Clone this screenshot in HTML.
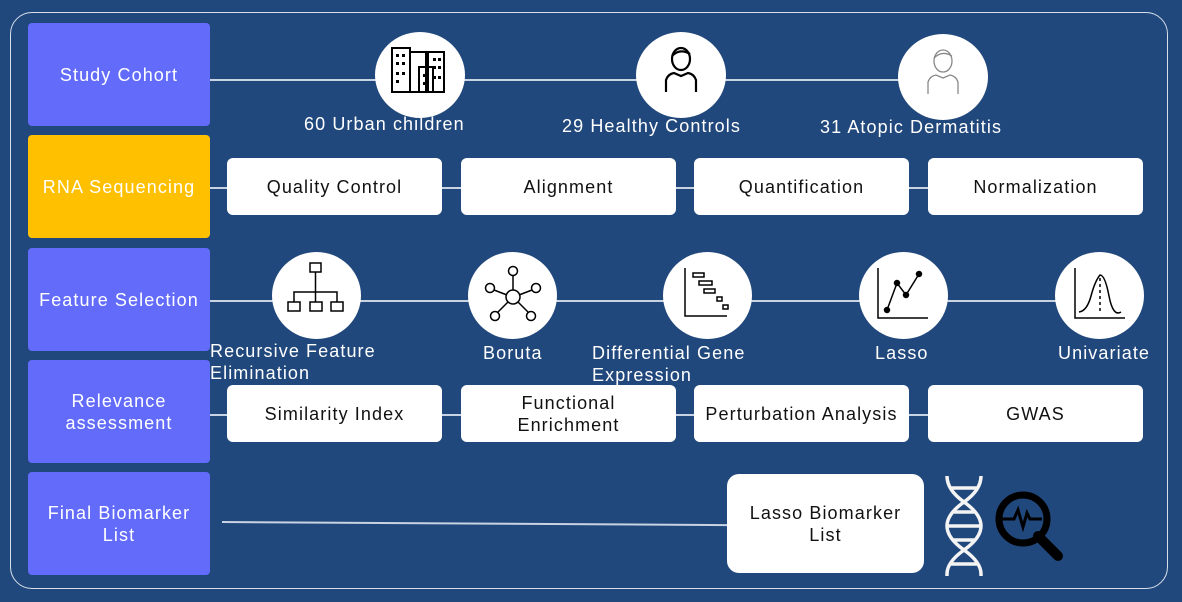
<!DOCTYPE html>
<html><head><style>
body{margin:0;width:1182px;height:602px;background:#21487c;position:relative;overflow:hidden;font-family:"Liberation Sans",sans-serif;letter-spacing:1.1px}
.a{position:absolute}
.lb{position:absolute;left:28px;width:182px;height:103px;background:#636cfa;border-radius:4px;color:#fff;font-size:18px;display:flex;align-items:center;justify-content:center;text-align:center;line-height:22px}
.wb{position:absolute;height:57px;width:215px;background:#fff;border-radius:6px;color:#111;font-size:18px;display:flex;align-items:center;justify-content:center;text-align:center;line-height:22px}
.ln{position:absolute;height:1.5px;background:#c8d3e4}
.c{position:absolute;background:#fff;border-radius:50%}
.t{position:absolute;color:#fff;font-size:18px;line-height:22px;white-space:nowrap}
</style></head><body>
<div class="a" style="left:10px;top:12px;width:1156px;height:575px;border:1.5px solid #d8e0ec;border-radius:22px"></div>
<div class="ln" style="left:210px;top:79px;width:700px"></div>
<div class="ln" style="left:210px;top:187px;width:740px"></div>
<div class="ln" style="left:210px;top:300px;width:850px"></div>
<div class="ln" style="left:210px;top:414px;width:740px"></div>
<div class="ln" style="left:222px;top:521px;width:506px;transform:rotate(0.35deg);transform-origin:left"></div>

<div class="lb" style="top:23px">Study Cohort</div>
<div class="lb" style="top:135px;background:#ffc000">RNA Sequencing</div>
<div class="lb" style="top:248px">Feature Selection</div>
<div class="lb" style="top:360px">Relevance<br>assessment</div>
<div class="lb" style="top:472px">Final Biomarker<br>List</div>

<div class="c" style="left:375px;top:32px;width:90px;height:86px"></div>
<div class="c" style="left:636px;top:32px;width:90px;height:86px"></div>
<div class="c" style="left:898px;top:34px;width:90px;height:86px"></div>
<svg class="a" style="left:375px;top:32px" width="90" height="86" fill="none" stroke="#000" stroke-width="2">
<rect x="17" y="16" width="18" height="44"/><rect x="35" y="20" width="16" height="40"/><rect x="53" y="20" width="16" height="40"/><rect x="44" y="35" width="14" height="25"/>
<g fill="#000" stroke="none"><rect x="21" y="22" width="3" height="3"/><rect x="27" y="22" width="3" height="3"/><rect x="21" y="30" width="3" height="3"/><rect x="27" y="30" width="3" height="3"/><rect x="21" y="40" width="3" height="3"/><rect x="27" y="40" width="3" height="3"/><rect x="21" y="48" width="3" height="3"/><rect x="58" y="26" width="3" height="3"/><rect x="63" y="26" width="3" height="3"/><rect x="58" y="34" width="3" height="3"/><rect x="63" y="34" width="3" height="3"/><rect x="58" y="44" width="3" height="3"/><rect x="63" y="44" width="3" height="3"/><rect x="48" y="42" width="3" height="3"/><rect x="48" y="50" width="3" height="3"/></g></svg>
<svg class="a" style="left:636px;top:32px" width="90" height="86" fill="none" stroke="#000" stroke-width="2.2">
<ellipse cx="45" cy="27" rx="9" ry="11"/><path d="M36 24q8-8 18-2"/><path d="M30 60v-12q2-6 8-7l7 3 7-3q6 1 8 7v12"/></svg>
<svg class="a" style="left:898px;top:34px" width="90" height="86" fill="none" stroke="#888" stroke-width="1.3">
<ellipse cx="45" cy="27" rx="9" ry="11"/><path d="M36 24q8-8 18-2"/><path d="M30 60v-12q2-6 8-7l7 3 7-3q6 1 8 7v12"/></svg>
<div class="t" style="left:304px;top:113px">60 Urban children</div>
<div class="t" style="left:562px;top:115px">29 Healthy Controls</div>
<div class="t" style="left:820px;top:116px">31 Atopic Dermatitis</div>

<div class="wb" style="left:227px;top:158px">Quality Control</div>
<div class="wb" style="left:461px;top:158px">Alignment</div>
<div class="wb" style="left:694px;top:158px">Quantification</div>
<div class="wb" style="left:928px;top:158px">Normalization</div>

<div class="c" style="left:272px;top:252px;width:89px;height:87px"></div>
<div class="c" style="left:468px;top:252px;width:89px;height:87px"></div>
<div class="c" style="left:663px;top:252px;width:89px;height:87px"></div>
<div class="c" style="left:859px;top:252px;width:89px;height:87px"></div>
<div class="c" style="left:1055px;top:252px;width:89px;height:87px"></div>
<svg class="a" style="left:272px;top:252px" width="89" height="87" fill="none" stroke="#000" stroke-width="1.5">
<rect x="38" y="11" width="11" height="9"/><path d="M43.5 20v30M22 50v-10h43v10"/><rect x="16" y="50" width="12" height="9"/><rect x="38" y="50" width="12" height="9"/><rect x="59" y="50" width="12" height="9"/></svg>
<svg class="a" style="left:468px;top:252px" width="89" height="87" fill="none" stroke="#000" stroke-width="1.5">
<circle cx="45" cy="45" r="7"/><circle cx="45" cy="19" r="4.5"/><circle cx="22" cy="36" r="4.5"/><circle cx="68" cy="36" r="4.5"/><circle cx="27" cy="64" r="4.5"/><circle cx="63" cy="64" r="4.5"/>
<path d="M45 24v14M26 38l13 5M64 38l-13 5M30 60l10-10M60 60l-10-10"/></svg>
<svg class="a" style="left:663px;top:252px" width="89" height="87" fill="none" stroke="#000" stroke-width="1.5">
<path d="M22 16v48h42"/><rect x="30" y="21" width="11" height="4"/><rect x="36" y="29" width="13" height="4"/><rect x="41" y="37" width="11" height="4"/><rect x="54" y="45" width="5" height="4"/><rect x="60" y="53" width="5" height="4"/></svg>
<svg class="a" style="left:859px;top:252px" width="89" height="87" fill="none" stroke="#000" stroke-width="1.5">
<path d="M19 16v50h50"/><path d="M28 58l10-27 9 12 13-21"/><g fill="#000"><circle cx="28" cy="58" r="2.5"/><circle cx="38" cy="31" r="2.5"/><circle cx="47" cy="43" r="2.5"/><circle cx="60" cy="22" r="2.5"/></g></svg>
<svg class="a" style="left:1055px;top:252px" width="89" height="87" fill="none" stroke="#000" stroke-width="1.5">
<path d="M20 16v50h50"/><path d="M24 60q8-1 12-16t9-21q5 0 9 21t12 16"/><path d="M45 26v34" stroke-dasharray="3 3"/></svg>
<div class="t" style="left:210px;top:340px;white-space:normal;width:200px">Recursive Feature Elimination</div>
<div class="t" style="left:483px;top:342px">Boruta</div>
<div class="t" style="left:592px;top:342px;white-space:normal;width:170px">Differential Gene Expression</div>
<div class="t" style="left:875px;top:342px">Lasso</div>
<div class="t" style="left:1058px;top:342px">Univariate</div>

<div class="wb" style="left:227px;top:385px">Similarity Index</div>
<div class="wb" style="left:461px;top:385px">Functional<br>Enrichment</div>
<div class="wb" style="left:694px;top:385px">Perturbation Analysis</div>
<div class="wb" style="left:928px;top:385px">GWAS</div>

<div class="wb" style="left:727px;top:474px;width:197px;height:99px;border-radius:12px">Lasso Biomarker<br>List</div>
<svg class="a" style="left:940px;top:474px" width="135" height="102" fill="none">
<g stroke="#f4f4f4" stroke-width="3.5">
<path d="M7 2q0 14 17 26t17 24-17 24-17 24v2"/><path d="M41 2q0 14-17 26t-17 24 17 24 17 24v2"/>
<path d="M10 14h28M14 38h20M8 52h32M14 66h20M10 90h28"/></g>
<circle cx="83" cy="45" r="24" stroke="#000" stroke-width="7"/><path d="M98 62l20 20" stroke="#000" stroke-width="10" stroke-linecap="round"/>
<path d="M62 45h12l4-9 5 17 4-14 3 6h12" stroke="#000" stroke-width="3"/></svg>
</body></html>
